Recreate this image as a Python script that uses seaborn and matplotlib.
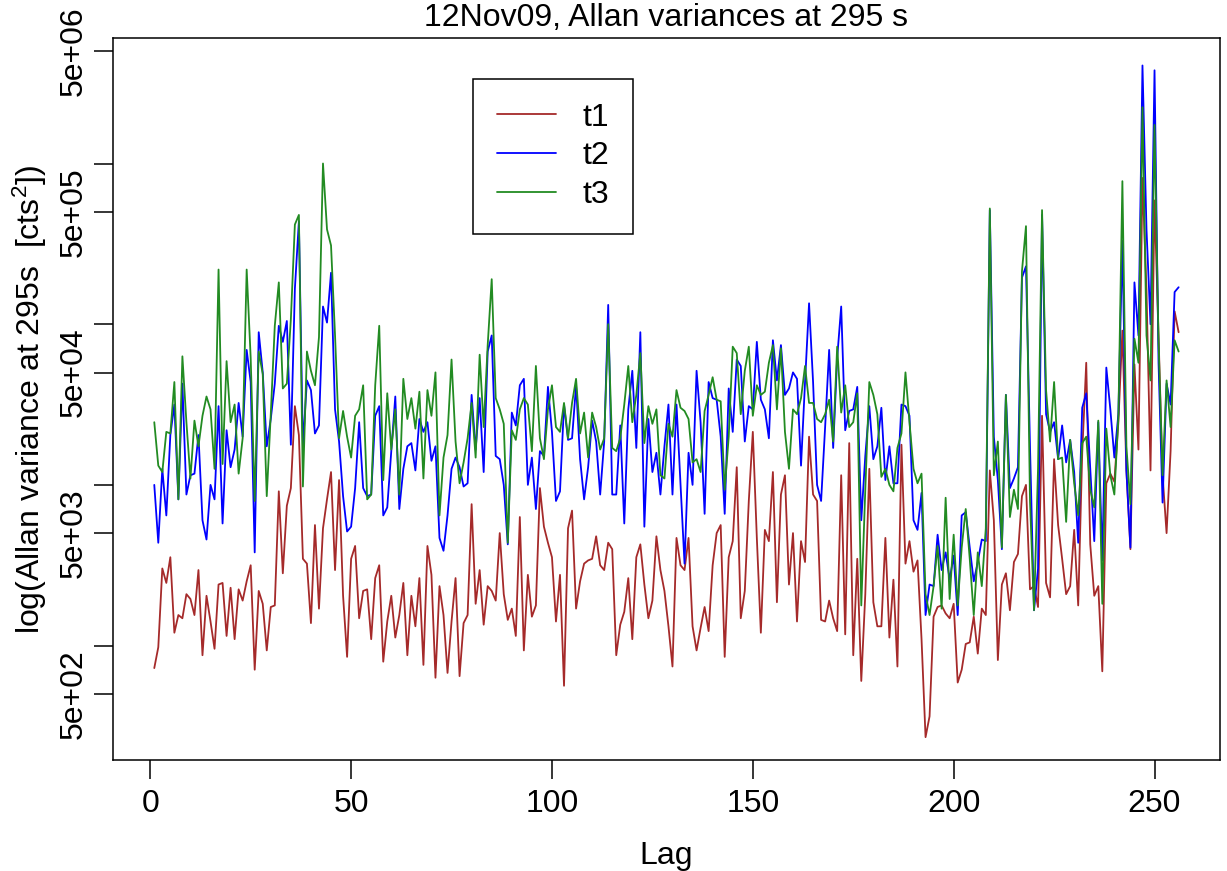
import numpy as np
import pandas as pd
import matplotlib
matplotlib.use("Agg")
import matplotlib.pyplot as plt
import seaborn as sns
from matplotlib.ticker import FixedLocator, FixedFormatter, NullLocator

# ---- data (log10 of the Allan variance) ----
series_names = ["t1", "t2", "t3"]
series_colors = ["#A52A2A", "#0000FF", "#228B22"]

t1_log10 = [
    2.86, 2.99, 3.48, 3.39, 3.55, 3.08, 3.19, 3.17, 3.32, 3.29,
    3.19, 3.47, 2.94, 3.31, 3.15, 2.98, 3.38, 3.39, 3.06, 3.36,
    3.04, 3.35, 3.28, 3.40, 3.50, 2.85, 3.34, 3.26, 2.97, 3.24,
    3.25, 3.96, 3.45, 3.87, 3.98, 4.49, 4.31, 3.54, 3.51, 3.14,
    3.75, 3.23, 3.73, 3.91, 4.08, 3.47, 4.03, 3.31, 2.93, 3.54,
    3.62, 3.17, 3.34, 3.35, 3.04, 3.42, 3.50, 2.90, 3.15, 3.31,
    3.05, 3.19, 3.39, 2.94, 3.31, 3.12, 3.42, 2.88, 3.62, 3.44,
    2.80, 3.37, 3.19, 2.83, 3.15, 3.42, 2.81, 3.14, 3.19, 3.88,
    3.26, 3.47, 3.13, 3.37, 3.34, 3.28, 3.70, 3.32, 3.16, 3.23,
    3.06, 3.80, 2.97, 3.44, 3.18, 3.25, 3.98, 3.74, 3.64, 3.55,
    3.15, 3.44, 2.75, 3.73, 3.84, 3.23, 3.40, 3.51, 3.53, 3.54,
    3.68, 3.50, 3.47, 3.64, 3.60, 2.94, 3.13, 3.21, 3.42, 3.04,
    3.55, 3.63, 3.38, 3.17, 3.28, 3.68, 3.47, 3.34, 3.12, 2.87,
    3.67, 3.50, 3.47, 3.67, 3.12, 2.97, 3.11, 3.24, 3.09, 3.50,
    3.70, 3.75, 2.93, 3.55, 3.65, 4.11, 3.17, 3.34, 3.90, 4.33,
    3.67, 3.08, 3.72, 3.65, 4.08, 3.27, 3.94, 4.06, 3.38, 3.70,
    3.15, 3.65, 3.52, 4.30, 3.94, 3.90, 3.16, 3.15, 3.28, 3.17,
    3.09, 4.06, 3.07, 4.26, 2.94, 3.54, 2.78, 3.32, 4.10, 3.27,
    3.12, 3.12, 3.67, 3.05, 3.41, 2.87, 4.25, 3.51, 3.65, 3.46,
    3.53, 3.04, 2.43, 2.56, 3.18, 3.24, 3.25, 3.20, 3.17, 3.26,
    2.77, 2.85, 3.01, 3.02, 3.18, 2.95, 3.23, 3.19, 4.09, 3.78,
    2.91, 3.38, 3.45, 3.22, 3.52, 3.57, 3.93, 4.00, 3.35, 3.37,
    3.24, 4.43, 3.39, 3.30, 4.16, 3.75, 3.54, 3.32, 3.37, 3.72,
    3.25, 4.20, 4.76, 3.63, 3.31, 3.37, 2.84, 4.01, 4.07, 4.02,
    4.39, 4.96, 4.09, 3.60, 4.75, 4.22, 5.91, 5.21, 4.09, 5.77,
    4.93, 4.06, 3.70, 4.21, 5.08, 4.95,
]

t2_log10 = [
    4.00, 3.64, 4.10, 3.81, 4.31, 4.50, 3.91, 4.63, 3.94, 4.06,
    4.07, 4.31, 3.78, 3.66, 4.00, 3.91, 4.49, 3.76, 4.34, 4.11,
    4.22, 4.51, 4.30, 4.84, 4.64, 3.58, 4.95, 4.70, 4.24, 4.41,
    4.63, 4.99, 4.89, 5.02, 4.25, 5.22, 5.64, 4.24, 4.65, 4.59,
    4.32, 4.37, 5.11, 5.01, 5.32, 4.47, 4.27, 3.93, 3.71, 3.74,
    3.98, 4.39, 3.98, 3.93, 3.94, 4.43, 4.49, 3.81, 3.86, 4.21,
    4.55, 3.85, 4.10, 4.24, 4.26, 4.09, 4.41, 4.33, 4.39, 4.15,
    4.24, 3.67, 3.59, 3.81, 4.10, 4.17, 4.11, 3.99, 4.01, 4.56,
    4.22, 4.54, 4.08, 4.83, 4.93, 4.18, 4.16, 4.00, 3.63, 4.45,
    4.37, 4.62, 4.66, 4.00, 4.17, 3.85, 4.21, 4.18, 4.61, 4.33,
    3.90, 3.96, 4.50, 4.28, 4.29, 4.62, 4.16, 3.91, 4.11, 4.40,
    4.27, 3.94, 4.27, 5.12, 3.94, 3.94, 4.37, 3.76, 4.47, 4.71,
    4.23, 4.95, 3.74, 4.41, 4.08, 4.20, 3.94, 4.24, 4.50, 3.94,
    4.50, 4.01, 3.51, 4.20, 4.00, 4.71, 4.39, 3.82, 4.64, 4.54,
    4.53, 4.30, 3.82, 4.60, 4.33, 4.78, 4.74, 4.27, 4.49, 4.47,
    4.89, 4.53, 4.47, 4.29, 4.90, 4.65, 4.87, 4.56, 4.60, 4.70,
    4.66, 4.12, 4.64, 5.13, 4.64, 4.00, 3.90, 4.36, 4.84, 4.23,
    4.79, 5.11, 4.34, 4.46, 4.47, 4.61, 3.78, 4.18, 4.49, 4.16,
    4.24, 4.48, 4.03, 4.24, 4.01, 4.01, 4.50, 4.49, 4.43, 3.78,
    3.72, 3.95, 3.19, 3.38, 3.37, 3.69, 3.47, 3.58, 3.41, 3.56,
    3.19, 3.81, 3.83, 3.61, 3.40, 3.52, 3.66, 3.65, 5.71, 4.30,
    4.03, 3.60, 4.56, 3.98, 4.04, 4.11, 5.29, 5.36, 4.24, 3.22,
    3.48, 5.68, 4.44, 4.33, 4.39, 4.16, 4.37, 4.14, 4.28, 4.08,
    3.64, 4.48, 4.57, 4.10, 3.65, 4.39, 3.53, 4.73, 4.47, 4.17,
    4.44, 5.52, 4.09, 3.61, 5.26, 4.93, 6.61, 5.59, 5.00, 6.58,
    4.76, 3.89, 4.63, 4.50, 5.20, 5.23,
]

t3_log10 = [
    4.39, 4.12, 4.08, 4.33, 4.32, 4.64, 3.91, 4.80, 4.39, 4.04,
    4.40, 4.24, 4.43, 4.55, 4.47, 4.10, 5.34, 4.13, 4.77, 4.39,
    4.50, 4.07, 4.29, 5.34, 4.79, 3.90, 4.83, 4.69, 3.93, 4.44,
    4.99, 5.26, 4.60, 4.63, 5.03, 5.62, 5.68, 3.99, 4.83, 4.71,
    4.62, 4.92, 6.00, 5.59, 5.49, 4.93, 4.29, 4.46, 4.30, 4.17,
    4.43, 4.47, 4.62, 3.91, 3.94, 4.62, 4.99, 4.03, 4.57, 4.22,
    4.47, 3.94, 4.66, 4.41, 4.54, 4.35, 4.58, 4.04, 4.59, 4.43,
    4.70, 3.81, 4.17, 4.31, 4.78, 4.27, 4.01, 4.14, 4.29, 4.51,
    4.17, 4.81, 4.36, 4.87, 5.28, 4.54, 4.47, 4.38, 3.64, 4.34,
    4.28, 4.47, 4.54, 4.50, 4.21, 4.74, 4.29, 4.16, 4.47, 4.62,
    4.36, 4.33, 4.51, 4.29, 4.51, 4.66, 4.32, 4.45, 4.17, 4.45,
    4.36, 4.22, 4.29, 5.00, 4.23, 4.21, 4.29, 4.50, 4.74, 4.39,
    4.56, 4.82, 4.26, 4.49, 4.38, 4.47, 4.06, 4.04, 4.38, 4.30,
    4.59, 4.48, 4.46, 4.41, 4.14, 4.16, 4.08, 4.46, 4.56, 4.67,
    4.53, 4.52, 3.97, 4.30, 4.86, 4.82, 4.44, 4.71, 4.86, 4.43,
    4.62, 4.56, 4.58, 4.76, 4.87, 4.47, 4.85, 4.33, 4.10, 4.47,
    4.44, 4.54, 4.74, 4.51, 4.51, 4.41, 4.39, 4.44, 4.53, 4.27,
    4.86, 4.45, 4.62, 4.36, 4.39, 4.57, 3.25, 3.97, 4.64, 4.56,
    4.44, 4.05, 4.10, 4.00, 3.96, 4.23, 4.32, 4.70, 4.39, 4.10,
    4.01, 4.07, 3.32, 3.19, 3.37, 3.62, 3.23, 3.92, 3.29, 3.69,
    3.25, 3.61, 3.85, 3.54, 3.19, 3.58, 3.37, 3.73, 5.72, 4.06,
    4.27, 3.61, 4.56, 3.80, 3.97, 3.85, 5.33, 5.61, 3.90, 3.22,
    4.10, 5.71, 4.59, 4.27, 4.64, 4.16, 4.17, 3.77, 4.28, 4.01,
    3.81, 4.26, 4.30, 3.97, 3.86, 4.40, 3.26, 4.35, 4.06, 3.94,
    4.42, 5.89, 4.24, 3.88, 4.91, 4.76, 6.35, 4.93, 4.65, 6.24,
    4.89, 4.06, 4.65, 4.36, 4.90, 4.83,
]

x_ticks = [0, 50, 100, 150, 200, 250]
y_ticks = [5e2, 1e3, 5e3, 1e4, 5e4, 1e5, 5e5, 1e6, 5e6]
y_tick_labels = ["5e+02", "", "5e+03", "", "5e+04", "", "5e+05", "", "5e+06"]

title_text = "12Nov09, Allan variances at 295 s"
x_label = "Lag"
y_label = "log(Allan variance at 295s  [cts$^{2}$])"

# ---- build long table ----
lags = np.arange(1, len(t1_log10) + 1)
all_logs = [t1_log10, t2_log10, t3_log10]
df = pd.DataFrame({
    "Lag": np.tile(lags, 3),
    "var": np.concatenate([10 ** np.array(v) for v in all_logs]),
    "series": np.repeat(series_names, len(lags)),
})

sns.set_theme(style="ticks")
plt.rcParams.update({
    "font.family": ["Liberation Sans", "DejaVu Sans"],
    "font.size": 23,
    "mathtext.fontset": "custom",
    "mathtext.rm": "Liberation Sans",
    "mathtext.it": "Liberation Sans:italic",
    "mathtext.bf": "Liberation Sans:bold",
    "axes.edgecolor": "black",
    "axes.linewidth": 1.1,
    "xtick.color": "black",
    "ytick.color": "black",
    "axes.labelcolor": "black",
    "text.color": "black",
})

fig = plt.figure(figsize=(12.27, 8.71), dpi=100)
ax = fig.add_axes([113.3 / 1227, 111 / 871, (1219.6 - 113.3) / 1227, 722 / 871])

sns.lineplot(data=df, x="Lag", y="var", hue="series", hue_order=series_names,
             palette=dict(zip(series_names, series_colors)), estimator=None,
             sort=False, linewidth=1.3, legend=False, ax=ax)

ax.set_yscale("log")
ax.set_xlim(-9.2, 266.2)
ax.set_ylim(10 ** 2.288, 10 ** 6.781)

ax.xaxis.set_major_locator(FixedLocator(x_ticks))
ax.yaxis.set_major_locator(FixedLocator(y_ticks))
ax.yaxis.set_major_formatter(FixedFormatter(y_tick_labels))
ax.yaxis.set_minor_locator(NullLocator())
ax.xaxis.set_minor_locator(NullLocator())
ax.tick_params(axis="both", direction="out", length=14, width=1.1,
               labelsize=23)
ax.tick_params(axis="x", pad=7)
ax.tick_params(axis="y", pad=4)

for s in ax.spines.values():
    s.set_visible(True)
    s.set_color("black")
    s.set_linewidth(1.1)

ax.set_title(title_text, fontsize=23, pad=9)
ax.set_xlabel(x_label, fontsize=23, labelpad=16)
ax.set_ylabel(y_label, fontsize=23, labelpad=7)

handles = ax.get_lines()[:3]
leg = ax.legend(handles, series_names, loc="upper left",
                bbox_to_anchor=(473 / 1227, 1 - 79 / 871),
                bbox_transform=fig.transFigure, borderaxespad=0,
                frameon=True, fancybox=False, shadow=False, framealpha=1,
                edgecolor="black", handlelength=1.85, handletextpad=0.85,
                borderpad=0.74, labelspacing=0.276, fontsize=23)
leg.get_frame().set_linewidth(1.1)

plt.setp(ax.get_yticklabels(), rotation=90, va="center", ha="right")

fig.savefig("out.png", dpi=100)
